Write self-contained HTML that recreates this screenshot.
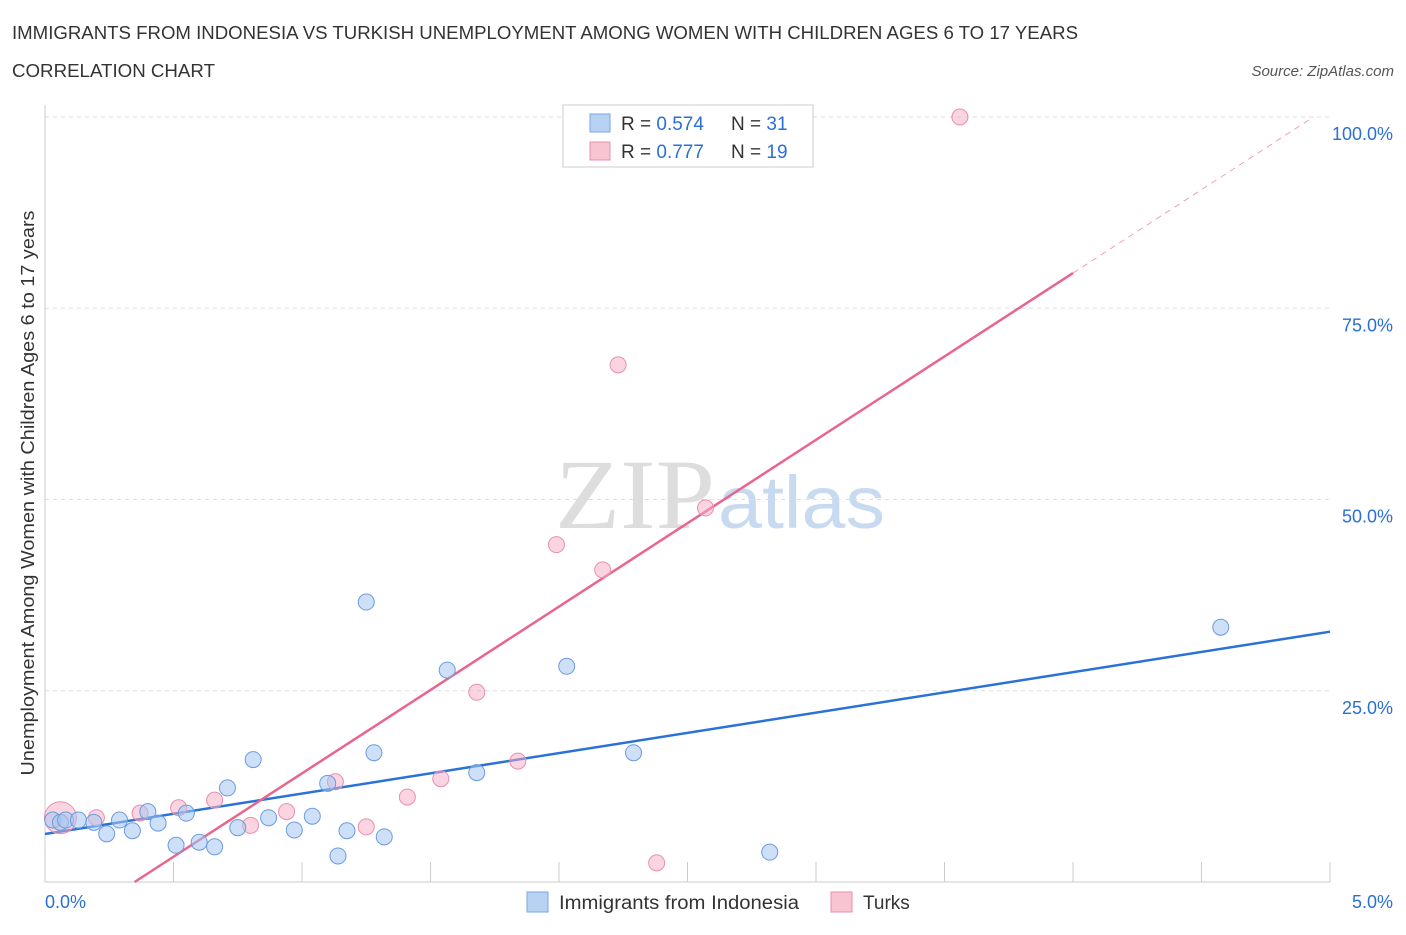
<!DOCTYPE html>
<html><head><meta charset="utf-8"><style>
body{margin:0;background:#fff;font-family:"Liberation Sans",sans-serif;}
</style></head><body>
<svg width="1406" height="930" xmlns="http://www.w3.org/2000/svg" font-family="Liberation Sans, sans-serif">
<text x="12" y="39" font-size="18" fill="#333" textLength="1066" lengthAdjust="spacingAndGlyphs">IMMIGRANTS FROM INDONESIA VS TURKISH UNEMPLOYMENT AMONG WOMEN WITH CHILDREN AGES 6 TO 17 YEARS</text>
<text x="12" y="77" font-size="18" fill="#333" textLength="203" lengthAdjust="spacingAndGlyphs">CORRELATION CHART</text>
<text x="1394" y="76" font-size="15" fill="#555" font-style="italic" text-anchor="end">Source: ZipAtlas.com</text>
<text x="555" y="528" font-size="100" fill="#ddd" textLength="160" lengthAdjust="spacingAndGlyphs" font-family="Liberation Serif, serif">ZIP</text>
<text x="718" y="528" font-size="74" fill="#c8daf0" textLength="167" lengthAdjust="spacingAndGlyphs">atlas</text>
<g id="grid"></g>
<g id="axes"></g>
<g id="trends"></g>
<g id="points"></g>
<text transform="translate(34,493) rotate(-90)" font-size="18" fill="#333" text-anchor="middle" textLength="565" lengthAdjust="spacingAndGlyphs">Unemployment Among Women with Children Ages 6 to 17 years</text>
<g>
<rect x="563" y="105" width="250" height="62" fill="#fff" stroke="#ccc"/>
<rect x="590" y="114" width="20" height="18" fill="#b8d2f4" stroke="#7aa6e0"/>
<text x="621" y="130" font-size="19" fill="#333">R = <tspan fill="#2a6fd6">0.574</tspan></text>
<text x="731" y="130" font-size="19" fill="#333">N = <tspan fill="#2a6fd6">31</tspan></text>
<rect x="590" y="142" width="20" height="18" fill="#f8c4d2" stroke="#e890aa"/>
<text x="621" y="158" font-size="19" fill="#333">R = <tspan fill="#2a6fd6">0.777</tspan></text>
<text x="731" y="158" font-size="19" fill="#333">N = <tspan fill="#2a6fd6">19</tspan></text>
</g>
<g>
<rect x="527" y="892" width="21" height="20" fill="#b8d2f4" stroke="#7aa6e0"/>
<text x="559" y="909" font-size="19" fill="#333" textLength="240" lengthAdjust="spacingAndGlyphs">Immigrants from Indonesia</text>
<rect x="831" y="892" width="21" height="20" fill="#f8c4d2" stroke="#e890aa"/>
<text x="863" y="909" font-size="19" fill="#333">Turks</text>
</g>
</svg>
<script>
const blueX=[0.03,0.06,0.08,0.13,0.19,0.24,0.29,0.34,0.40,0.44,0.51,0.55,0.60,0.66,0.71,0.75,0.81,0.87,0.97,1.04,1.10,1.14,1.175,1.25,1.28,1.32,1.565,1.68,2.03,2.29,2.82,4.575];
const blueY=[8.1,7.8,8.1,8.1,7.8,6.3,8.1,6.7,9.2,7.7,4.8,9.0,5.2,4.6,12.3,7.1,16.0,8.4,6.8,8.6,12.9,3.4,6.7,36.6,16.9,5.9,27.7,14.3,28.2,16.9,3.9,33.3];
const pinkX=[0.06,0.20,0.37,0.52,0.66,0.80,0.94,1.13,1.25,1.41,1.54,1.68,1.84,1.99,2.17,2.23,2.38,2.57,3.56];
const pinkY=[8.4,8.4,9.0,9.7,10.7,7.4,9.2,13.1,7.2,11.1,13.5,24.8,15.8,44.1,40.8,67.6,2.5,48.9,100];
const blueTrend=[6.27,5.29];
const pinkTrend=[-7.6,21.8];
const yTicks=[25,50,75,100];
const xTicks=[0,0.5,1,1.5,2,2.5,3,3.5,4,4.5,5];
const NS='http://www.w3.org/2000/svg';
const sx=v=>45+v*257, sy=v=>882-v*7.65;
function mk(p,t,a){const e=document.createElementNS(NS,t);for(const k in a)e.setAttribute(k,a[k]);p.appendChild(e);return e;}
const grid=document.getElementById('grid'),axes=document.getElementById('axes'),tr=document.getElementById('trends'),pts=document.getElementById('points');
yTicks.forEach(v=>{
 const l=mk(grid,'line',{x1:45,x2:1330,y1:sy(v),y2:sy(v),stroke:'#ddd','stroke-dasharray':'4,4'});
 
 
 const t=mk(axes,'text',{x:1393,y:sy(v)+23,'font-size':18,fill:'#2a6fd6','text-anchor':'end'});t.textContent=v.toFixed(1)+'%';
 
 
});
const ax=mk(axes,'line',{x1:45,x2:45,y1:105,y2:882,stroke:'#ccc'});


const bx=mk(axes,'line',{x1:45,x2:1330,y1:882,y2:882,stroke:'#ccc'});


xTicks.forEach(v=>{
 const l=mk(axes,'line',{x1:sx(v),x2:sx(v),y1:862,y2:882,stroke:'#ccc'});
 
 
});
[[0,'0.0%','start',45],[5,'5.0%','end',1393]].forEach(d=>{
 const t=mk(axes,'text',{x:d[3],y:908,'font-size':18,fill:'#2a6fd6','text-anchor':d[2]});t.textContent=d[1];
 
 
});
const bl=mk(tr,'line',{x1:sx(0),y1:sy(blueTrend[0]),x2:sx(5),y2:sy(blueTrend[0]+5*blueTrend[1]),stroke:'#2a72d8','stroke-width':2.5});


const x0=-pinkTrend[0]/pinkTrend[1],x1=4.0,x2=(100-pinkTrend[0])/pinkTrend[1];
const pl=mk(tr,'line',{x1:sx(x0),y1:sy(0),x2:sx(x1),y2:sy(pinkTrend[0]+x1*pinkTrend[1]),stroke:'#e8668e','stroke-width':2.5});


const pd=mk(tr,'line',{x1:sx(x1),y1:sy(pinkTrend[0]+x1*pinkTrend[1]),x2:sx(x2),y2:sy(100),stroke:'#f0a0b8','stroke-width':1,'stroke-dasharray':'6,5'});


pinkX.forEach((x,i)=>{
 const c=mk(pts,'circle',{cx:sx(x),cy:sy(pinkY[i]),r:i===0?16:8,fill:'rgba(245,170,195,0.5)',stroke:'#e890aa','stroke-width':1});
 
 
});
blueX.forEach((x,i)=>{
 const c=mk(pts,'circle',{cx:sx(x),cy:sy(blueY[i]),r:8,fill:'rgba(165,198,240,0.55)',stroke:'#6a9be0','stroke-width':1});
 
 
});
</script>
</body></html>
